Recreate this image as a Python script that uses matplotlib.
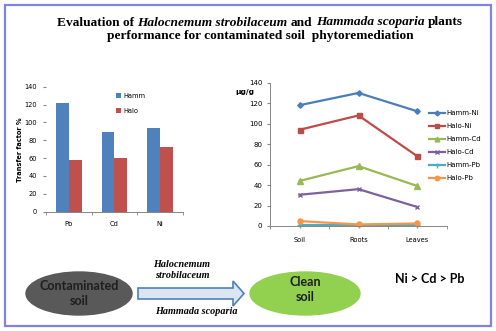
import numpy as np
import matplotlib
matplotlib.use('Agg')
import matplotlib.pyplot as plt
from matplotlib.patches import Ellipse, Rectangle, Polygon

W, H = 496, 331

# transfer factor (%) of each metal
metals = ['Pb', 'Cd', 'Ni']
tf_hamm = [122, 89, 94]
tf_halo = [58, 60, 72]

# metal content (ug/g) in soil, roots and leaves
organs = ['Soil', 'Roots', 'Leaves']
hamm_ni = [118, 130, 112]
halo_ni = [94, 108, 68]
hamm_cd = [44, 58.5, 39]
halo_cd = [30.5, 36, 18.5]
hamm_pb = [0.8, 0.8, 0.8]
halo_pb = [4.8, 1.5, 2.5]

fig = plt.figure(figsize=(W / 100, H / 100), dpi=100)


def box(l, t, r, b):
    # pixel box (top-left origin) -> figure fraction rect
    return [l / W, 1 - b / H, (r - l) / W, (b - t) / H]


# background layer in pixel coordinates
bg = fig.add_axes([0, 0, 1, 1])
bg.set_xlim(0, W)
bg.set_ylim(H, 0)
bg.axis('off')
bg.add_patch(Rectangle((4.5, 4.5), 486, 321, fill=False, ec='#8282e0', lw=1.6))

# ---- title, mixed bold / bold italic ----
serif = 'Liberation Serif'
tsize = 9.6


def text_width(s, **kw):
    t = fig.text(0, 0, s, **kw)
    w = t.get_window_extent(fig.canvas.get_renderer()).width
    t.remove()
    return w


def title_line(pieces, xc, y):
    kw = dict(fontsize=tsize, family=serif, weight='bold')
    fig.canvas.draw()
    sp = text_width('x x', **kw) - text_width('xx', **kw)
    widths = [text_width(s, style=st, **kw) for s, st in pieces]
    total = sum(widths) + sp * (len(pieces) - 1)
    x = xc - total / 2
    for (s, st), w in zip(pieces, widths):
        fig.text(x / W, 1 - y / H, s, style=st, va='center', ha='left', **kw)
        x += w + sp


title_line([('Evaluation of', 'normal'),
            ('Halocnemum strobilaceum', 'italic'),
            ('and', 'normal'),
            ('Hammada scoparia', 'italic'),
            ('plants', 'normal')], 260, 22.5)
title_line([('performance for contaminated soil  phytoremediation', 'normal')], 260, 36.5)

# ---- transfer factor bars ----
ax1 = fig.add_axes(box(46, 86.7, 183, 211.7))
x = np.arange(len(metals))
w = 0.28
b1 = ax1.bar(x - w / 2, tf_hamm, w, color='#4F81BD')
b2 = ax1.bar(x + w / 2, tf_halo, w, color='#C0504D')
ax1.set_xlim(-0.5, 2.5)
ax1.set_ylim(0, 140)
ax1.set_yticks(np.arange(0, 141, 20))
ax1.set_xticks(x, metals)
ax1.set_xticks([-0.5, 0.5, 1.5, 2.5], minor=True)
ax1.tick_params(axis='x', which='major', length=0, pad=7, labelsize=4.8)
ax1.tick_params(axis='x', which='minor', length=2.5, color='#868686')
ax1.tick_params(axis='y', length=2.5, color='#868686', labelsize=4.8, pad=4)
for s in ['top', 'right', 'left']:
    ax1.spines[s].set_visible(False)
ax1.spines['bottom'].set_color('#868686')
ax1.spines['bottom'].set_linewidth(0.7)
ax1.set_ylabel('Transfer factor %', fontsize=4.8, weight='bold')
ax1.yaxis.set_label_coords(-0.17, 0.5)
fig.legend((b1, b2), ('Hamm', 'Halo'), loc='upper left',
           bbox_to_anchor=(110 / W, 1 - 87 / H), frameon=False, fontsize=4.8,
           handlelength=0.7, handleheight=0.7, handletextpad=0.4, labelspacing=1.3)

# ---- metal content lines ----
ax2 = fig.add_axes(box(270, 82.7, 447, 226))
xo = np.arange(len(organs))
series = [
    (hamm_ni, 'Hamm-Ni', '#4A7EBB', 'D', 2.8),
    (halo_ni, 'Halo-Ni', '#BE4B48', 's', 3.6),
    (hamm_cd, 'Hamm-Cd', '#98B954', '^', 3.8),
    (halo_cd, 'Halo-Cd', '#7D60A0', 'x', 3.5),
    (hamm_pb, 'Hamm-Pb', '#4BACC6', '+', 4.0),
    (halo_pb, 'Halo-Pb', '#F79646', 'o', 3.6),
]
for vals, lab, c, m, ms in series:
    ax2.plot(xo, vals, color=c, lw=1.6, marker=m, ms=ms, mew=1.0, label=lab, clip_on=False)
ax2.set_xlim(-0.5, 2.5)
ax2.set_ylim(0, 140)
ax2.set_yticks(np.arange(0, 141, 20))
ax2.set_xticks(xo, organs)
ax2.set_xticks([-0.5, 0.5, 1.5, 2.5], minor=True)
ax2.tick_params(axis='x', which='major', length=0, pad=8, labelsize=4.8)
ax2.tick_params(axis='x', which='minor', length=2.5, color='#868686')
ax2.tick_params(axis='y', length=2.5, color='#868686', labelsize=5.0, pad=3)
for s in ['top', 'right']:
    ax2.spines[s].set_visible(False)
for s in ['left', 'bottom']:
    ax2.spines[s].set_color('#868686')
    ax2.spines[s].set_linewidth(0.7)
fig.text(245 / W, 1 - 92 / H, '\u03bcg/g', fontsize=5.4, weight='bold', ha='center', va='center')
fig.legend(loc='upper left', bbox_to_anchor=(423 / W, 1 - 104 / H), frameon=False,
           fontsize=5.0, handlelength=2.2, handletextpad=0.3, labelspacing=1.0,
           markerscale=0.9)

# ---- remediation scheme ----
bg.add_patch(Ellipse((79, 293.5), 106, 43, color='#595959'))
bg.add_patch(Ellipse((305, 293.5), 110, 43, color='#92D050'))
bg.add_patch(Polygon([(138, 288), (233, 288), (233, 281), (244, 293.5),
                      (233, 306), (233, 299), (138, 299)],
                     closed=True, fc='#DCE6F2', ec='#4F81BD', lw=1.2))
sans = 'Lato'
bg.text(79, 293.5, 'Contaminated\nsoil', ha='center', va='center', fontsize=9,
        family=sans, weight='bold', color='#1E1E1E', linespacing=1.3)
bg.text(305, 289.5, 'Clean\nsoil', ha='center', va='center', fontsize=9,
        family=sans, weight='bold', color='#1E1E1E', linespacing=1.3)
bg.text(430, 279, 'Ni > Cd > Pb', ha='center', va='center', fontsize=9,
        family=sans, weight='bold', color='black')
bg.text(182, 270, 'Halocnemum\nstrobilaceum', ha='center', va='center', fontsize=7.3,
        family=serif, weight='bold', style='italic', linespacing=1.3)
bg.text(196, 311, 'Hammada scoparia', ha='center', va='center', fontsize=7.3,
        family=serif, weight='bold', style='italic')

fig.savefig('out.png', dpi=100)
